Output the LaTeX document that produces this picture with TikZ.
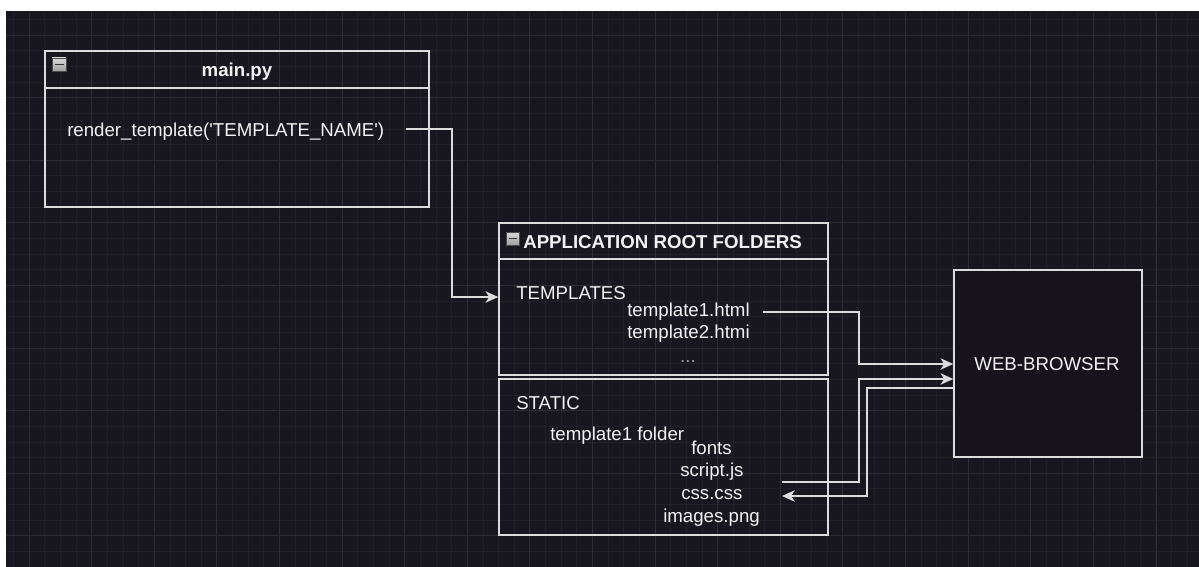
\documentclass[tikz,border=0pt]{standalone}
\usepackage{fontspec}
\newfontfamily\lsans{Liberation Sans}
\usetikzlibrary{arrows.meta,fit}
\definecolor{bg}{HTML}{18161F}
\definecolor{gridminor}{HTML}{211F28}
\definecolor{gridmajor}{HTML}{2E2D35}
\definecolor{stroke}{HTML}{DCDCDC}
\definecolor{fg}{HTML}{F2F2F2}
\definecolor{dots}{HTML}{9A9AA0}
\definecolor{boxfill}{HTML}{16131C}
\begin{document}
\begin{tikzpicture}[x=0.75pt,y=-0.75pt,
  box/.style={draw=stroke, line width=1.1pt, inner sep=0pt},
  txt/.style={inner sep=0pt, text=fg, font=\lsans\fontsize{14}{16}\selectfont, anchor=base west},
  ttl/.style={txt, font=\lsans\bfseries\fontsize{14}{16}\selectfont},
  conn/.style={draw=stroke, line width=1.1pt},
  arr/.style={conn, -{Stealth[length=9.5pt,width=8.5pt,inset=2.6pt]}},
  icon/.style={draw=gray!60!black, top color=gray!30!white, bottom color=gray!75!white, line width=0.5pt},
  minus/.style={draw=black!80, line width=1.2pt}
]
\useasboundingbox (0,0) rectangle (1199,567);
\fill[white] (0,0) rectangle (1199,567);
\fill[bg] (6,11) rectangle (1199,567);
\begin{scope}
  \clip (6,11) rectangle (1199,567);
  \foreach \i in {0,...,76} \draw[gridminor, line width=0.6pt] ({13.4+15.65*\i},11) -- ({13.4+15.65*\i},567);
  \foreach \j in {0,...,36} \draw[gridminor, line width=0.6pt] (6,{19.35+15.65*\j}) -- (1199,{19.35+15.65*\j});
  \foreach \i in {0,...,19} \draw[gridmajor, line width=0.7pt] ({29+62.61*\i},11) -- ({29+62.61*\i},567);
  \foreach \j in {0,...,9} \draw[gridmajor, line width=0.7pt] (6,{35+62.6*\j}) -- (1199,{35+62.6*\j});
\end{scope}

% main.py box
\node[box, fit={(45,51) (429,88)}] (mainhead) {};
\node[box, fit={(45,88) (429,207)}] (mainbody) {};
\draw[icon] (52,58) rectangle (66,71);
\draw[minus] (54.5,64.5) -- (63.5,64.5);
\node[ttl, anchor=base] (maintitle) at (237,77) {main.py};
\node[txt] (rt) at (67,136) {render\_template('TEMPLATE\_NAME')};

% application root folders
\node[box, fit={(499,223) (828,259)}] (apphead) {};
\node[box, fit={(499,259) (828,375)}] (tpl) {};
\node[box, fit={(499,379) (828,535)}] (static) {};
\draw[icon] (506,232) rectangle (519,245);
\draw[minus] (508.5,238.5) -- (516.5,238.5);
\node[ttl] (apptitle) at (523,248) {APPLICATION ROOT FOLDERS};
\node[txt] (templates) at (516,299) {TEMPLATES};
\node[txt] (t1) at (627,316) {template1.html};
\node[txt] (t2) at (627,338) {template2.htmi};
\node[txt, text=dots, anchor=base] (tdots) at (688,362) {...};
\node[txt] (statictxt) at (516,409) {STATIC};
\node[txt] (tfolder) at (550,440) {template1 folder};
\node[txt] (fonts) at (691,454) {fonts};
\node[txt] (script) at (680,476) {script.js};
\node[txt] (css) at (681,499) {css.css};
\node[txt] (images) at (663,522) {images.png};

% web browser
\node[box, fill=boxfill, fit={(954,270) (1142,457)}] (browser) {};
\node[txt, anchor=base] (browsertxt) at (1047,370) {WEB-BROWSER};

% connector end points
\coordinate (rtout) at (406,129);
\coordinate (tplin) at (tpl.west |- 0,297);
\coordinate (t1out) at (763,312);
\coordinate (brin1) at (browser.west |- 0,364);
\coordinate (scriptout) at (782,482);
\coordinate (brin2) at (browser.west |- 0,379);
\coordinate (brout) at (browser.west |- 0,388);
\coordinate (cssin) at (782,496);

\draw[arr] (rtout) -- (452,129) -- (452,297) -- (tplin);
\draw[arr] (t1out) -- (859,312) -- (859,364) -- (brin1);
\draw[arr] (scriptout) -- (859,482) -- (859,379) -- (brin2);
\draw[arr] (brout) -- (867,388) -- (867,496) -- (cssin);
\end{tikzpicture}
\end{document}
